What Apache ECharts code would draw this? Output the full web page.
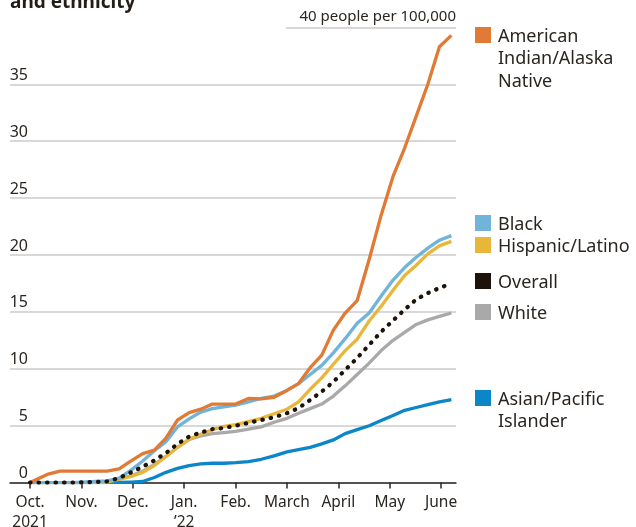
<!DOCTYPE html>
<html><head><meta charset="utf-8">
<script src="https://cdn.jsdelivr.net/npm/echarts@6/dist/echarts.min.js"></script>
<style>html,body{margin:0;padding:0;background:#fff}#c{width:636px;height:527px}</style>
</head><body><div id="c"></div>
<script>
const dates = ['2021-10-01','2021-10-12','2021-10-19','2021-10-26','2021-11-02','2021-11-09','2021-11-16','2021-11-23','2021-11-30','2021-12-07','2021-12-14','2021-12-21','2021-12-28','2022-01-04','2022-01-11','2022-01-18','2022-01-25','2022-02-01','2022-02-08','2022-02-15','2022-02-22','2022-03-01','2022-03-08','2022-03-15','2022-03-22','2022-03-29','2022-04-05','2022-04-12','2022-04-19','2022-04-26','2022-05-03','2022-05-10','2022-05-17','2022-05-24','2022-05-31','2022-06-07'];
const americanIndian = [0,0.75,1,1,1,1,1,1.2,1.9,2.55, 2.85,3.9,5.5,6.15,6.45,6.9,6.9,6.9,7.4,7.35, 7.5,8.1,8.7,10.1,11.2,13.4,14.9,16.0,19.6,23.5, 26.9,29.4,32.2,35.0,38.3,39.3];
const black = [0,0,0,0,0.05,0.1,0.15,0.4,1.1,1.9, 2.8,3.6,4.9,5.6,6.2,6.5,6.65,6.8,7.1,7.4, 7.6,8.1,8.7,9.5,10.3,11.4,12.65,14.0,14.9,16.4, 17.8,18.9,19.8,20.6,21.3,21.7];
const hispanic = [0,0,0,0,0,0,0.05,0.3,0.55,0.9, 1.5,2.3,3.1,3.8,4.25,4.65,4.95,5.1,5.35,5.65, 6.05,6.45,7.1,8.2,9.2,10.4,11.6,12.6,14.2,15.5, 16.9,18.2,19.1,20.1,20.8,21.2];
const overall = [0,0,0,0,0.02,0.05,0.1,0.4,0.9,1.4, 1.95,2.6,3.4,4.05,4.4,4.7,4.8,5.0,5.25,5.5, 5.75,6.1,6.55,7.25,8.0,8.85,9.9,10.95,12.1,13.25, 14.25,15.2,16.1,16.65,17.1,17.5];
const white = [0,0,0,0,0,0.05,0.1,0.3,0.6,1.0, 1.6,2.3,3.1,3.8,4.1,4.3,4.4,4.5,4.7,4.9, 5.3,5.65,6.1,6.5,6.9,7.6,8.5,9.5,10.5,11.6, 12.5,13.2,13.9,14.3,14.6,14.9];
const asian = [0,0,0,0,0,0,0,0.02,0.05,0.1, 0.45,0.9,1.25,1.5,1.65,1.7,1.7,1.75,1.85,2.05, 2.35,2.7,2.9,3.1,3.4,3.75,4.3,4.65,5.0,5.45, 5.9,6.35,6.6,6.85,7.1,7.3];
const monthLabels = ['Oct.\n2021','Nov.','Dec.','Jan.\n\u201922','Feb.','March','April','May','June'];
const yTickValues = [0,5,10,15,20,25,30,35,40];
const topNote = '40 people per 100,000';

const TXT = '#2b2520';
const FONT = '"Noto Sans", sans-serif';
function monthPos(s){
  const [y,m,d] = s.split('-').map(Number);
  const dim = new Date(y, m, 0).getDate();
  return (y-2021)*12 + (m-10) + (d-1)/dim;
}
const xs = dates.map(monthPos);
const pts = arr => arr.map((v,i)=>[xs[i], v]);

const seriesDefs = [
  {name:'White', data:white, color:'#a9a9a9'},
  {name:'Asian/Pacific Islander', data:asian, color:'#0b86c8'},
  {name:'Hispanic/Latino', data:hispanic, color:'#e8b73a'},
  {name:'Black', data:black, color:'#72b3d9'},
  {name:'Overall', data:overall, color:'#1e130b', dotted:true},
  {name:'American Indian/Alaska Native', data:americanIndian, color:'#e07a34'}
];

const legendItems = [
  {label:'American\nIndian/Alaska\nNative', color:'#e07a34', top:27},
  {label:'Black', color:'#72b3d9', top:215},
  {label:'Hispanic/Latino', color:'#e8b73a', top:237},
  {label:'Overall', color:'#1e130b', top:273},
  {label:'White', color:'#a9a9a9', top:304},
  {label:'Asian/Pacific\nIslander', color:'#0b86c8', top:390}
];
const graphic = [{type:'text', left:10, top:-7, style:{text:'and ethnicity', font:'bold 19px "Noto Sans", sans-serif', fill:'#231c17'}}];
legendItems.forEach(it=>{
  graphic.push({type:'rect', shape:{x:475, y:it.top, width:16, height:16}, style:{fill:it.color}});
  graphic.push({type:'text', x:498, y:it.top - 1.5, style:{text:it.label, font:'18px "Noto Sans", sans-serif', fill:TXT, lineHeight:22.5, verticalAlign:'top'}});
});

const splitColors = yTickValues.map(v => v===40 ? 'rgba(0,0,0,0)' : '#cbcbcb');

const series = seriesDefs.map(s => ({
  name:s.name, type:'line', data:pts(s.data), showSymbol:false, symbol:'none', silent:true,
  lineStyle: s.dotted ? {color:s.color, width:4.2, type:[0.5,8], cap:'round'} : {color:s.color, width:3.3, cap:'butt', join:'round'},
  emphasis:{disabled:true}, z: s.dotted ? 4 : 3
}));
series[0].markLine = {
  silent:true, symbol:'none', animation:false,
  lineStyle:{color:'#cbcbcb', width:1.5, type:'solid'},
  label:{show:true, position:'insideEndTop', formatter:topNote, color:TXT, fontSize:15, fontFamily:FONT, distance:[0,3]},
  data:[[{coord:[4.98,40]},{coord:[8.29,40]}]]
};

const chart = echarts.init(document.getElementById('c'), null, {renderer:'canvas'});
chart.setOption({
  animation:false,
  backgroundColor:'#fff',
  grid:{left:10, right:180, top:27.4, bottom:44.4, containLabel:false, outerBoundsMode:'none'},
  xAxis:{
    type:'value', min:-0.39, max:8.29,
    axisLine:{show:true, onZero:false, lineStyle:{color:'#2a2622', width:1.5}},
    axisTick:{show:true, customValues:[0,1,2,3,4,5,6,7,8], length:6, lineStyle:{color:'#2a2622', width:1.5}},
    axisLabel:{customValues:[0,1,2,3,4,5,6,7,8], formatter:v=>monthLabels[Math.round(v)], color:TXT, fontSize:15.5, fontFamily:FONT, lineHeight:20, margin:10},
    splitLine:{show:false}
  },
  yAxis:{
    type:'value', min:0, max:40, interval:5,
    axisLine:{show:false}, axisTick:{show:false},
    axisLabel:{inside:true, align:'right', verticalAlign:'bottom', margin:18, formatter:v=> v===40 ? '' : String(v), color:TXT, fontSize:16, fontFamily:FONT, padding:[0,0,1,0]},
    splitLine:{show:true, lineStyle:{color:splitColors, width:1.5}}
  },
  graphic: graphic,
  series: series
});
</script></body></html>
